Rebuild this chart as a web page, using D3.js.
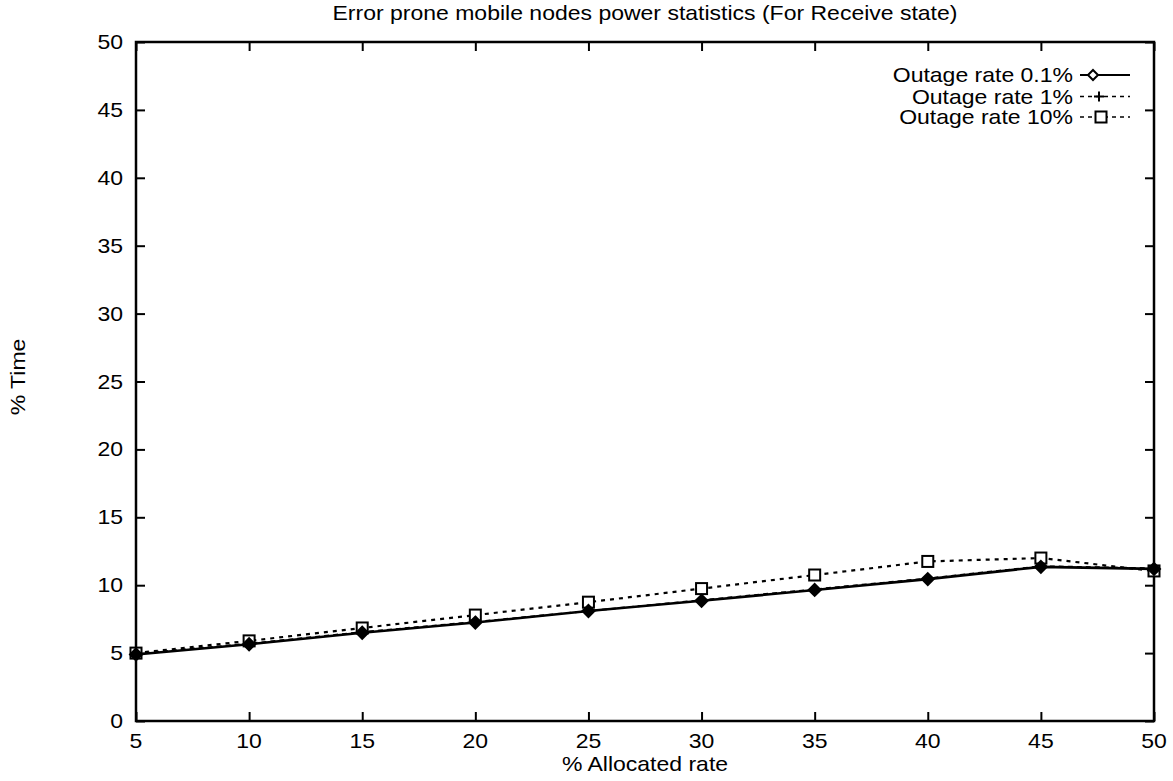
<!DOCTYPE html>
<html>
<head>
<meta charset="utf-8">
<script src="https://cdn.jsdelivr.net/npm/d3@7"></script>
<style>
  html, body { margin: 0; padding: 0; background: #fff; }
  text { font-family: "Liberation Sans", Arial, sans-serif; fill: #000; }
</style>
</head>
<body>
<svg id="chart" width="1173" height="781"></svg>
<script>
  'use strict';

  var allocatedRate = [5, 10, 15, 20, 25, 30, 35, 40, 45, 50];
  var outage01 = [4.9, 5.65, 6.5, 7.25, 8.1, 8.85, 9.65, 10.45, 11.35, 11.2];
  var outage1 = [4.95, 5.7, 6.55, 7.3, 8.1, 8.9, 9.7, 10.5, 11.4, 11.25];
  var outage10 = [5.0, 5.9, 6.85, 7.8, 8.75, 9.75, 10.75, 11.75, 12.0, 11.05];
  var xTicks = [5, 10, 15, 20, 25, 30, 35, 40, 45, 50];
  var yTicks = [0, 5, 10, 15, 20, 25, 30, 35, 40, 45, 50];
  var seriesNames = ['Outage rate 0.1%', 'Outage rate 1%', 'Outage rate 10%'];

  var FONT_SIZE = 20;
  var STRETCH = 1.15; // scanned text is wider than the font
  var TICK = 9;

  var margin = { left: 136, right: 1154, top: 42, bottom: 721 };

  var svg = d3.select('#chart');

  var x = d3.scaleLinear().domain([5, 50]).range([margin.left, margin.right]);
  var y = d3.scaleLinear().domain([0, 50]).range([margin.bottom, margin.top]);

  var label = function(parent, text, px, py, anchor, rotate) {
    var t = 'translate(' + px + ',' + py + ')';
    if (rotate) t += ' rotate(' + rotate + ')';
    t += ' scale(' + STRETCH + ',1)';
    return parent.append('text')
      .attr('transform', t)
      .attr('text-anchor', anchor)
      .style('font-size', FONT_SIZE + 'px')
      .text(text);
  };

  // mirrored ticks on all four sides, pointing inwards
  var axes = svg.append('g').classed('axes', true);

  axes.append('g')
    .attr('transform', 'translate(0,' + margin.bottom + ')')
    .call(d3.axisBottom(x).tickValues(xTicks).tickSize(-TICK).tickFormat(''));
  axes.append('g')
    .attr('transform', 'translate(0,' + margin.top + ')')
    .call(d3.axisTop(x).tickValues(xTicks).tickSize(-TICK).tickFormat(''));
  axes.append('g')
    .attr('transform', 'translate(' + margin.left + ',0)')
    .call(d3.axisLeft(y).tickValues(yTicks).tickSize(-TICK).tickFormat(''));
  axes.append('g')
    .attr('transform', 'translate(' + margin.right + ',0)')
    .call(d3.axisRight(y).tickValues(yTicks).tickSize(-TICK).tickFormat(''));

  axes.selectAll('.domain').remove();
  axes.selectAll('.tick line').attr('stroke', '#000').attr('stroke-width', 2);

  svg.append('rect')
    .attr('x', margin.left)
    .attr('y', margin.top)
    .attr('width', margin.right - margin.left)
    .attr('height', margin.bottom - margin.top)
    .attr('fill', 'none')
    .attr('stroke', '#000')
    .attr('stroke-width', 2.5);

  var tickLabels = svg.append('g').classed('tick-labels', true);
  xTicks.forEach(function(v) {
    label(tickLabels, v, x(v), margin.bottom + 27, 'middle');
  });
  yTicks.forEach(function(v) {
    label(tickLabels, v, margin.left - 13, y(v) + 7, 'end');
  });

  label(svg, 'Error prone mobile nodes power statistics (For Receive state)',
    (margin.left + margin.right) / 2, 20, 'middle');
  label(svg, '% Allocated rate', (margin.left + margin.right) / 2, 771, 'middle');
  label(svg, '% Time', 25, 377, 'middle', -90);

  var series = [
    { name: seriesNames[0], values: outage01, dash: null, width: 2.6, marker: 'diamond' },
    { name: seriesNames[1], values: outage1, dash: '5,4', width: 1.8, marker: 'plus' },
    { name: seriesNames[2], values: outage10, dash: '4,5', width: 2.2, marker: 'square' }
  ];

  var line = d3.line()
    .x(function(d) { return x(d.x); })
    .y(function(d) { return y(d.y); });

  var drawMarker = function(parent, kind, px, py, filled) {
    if (kind === 'diamond') {
      var r = filled ? 6 : 5;
      parent.append('path')
        .attr('d', 'M' + px + ',' + (py - r) + 'L' + (px + r) + ',' + py +
          'L' + px + ',' + (py + r) + 'L' + (px - r) + ',' + py + 'Z')
        .attr('fill', filled ? '#000' : '#fff')
        .attr('stroke', '#000')
        .attr('stroke-width', 2);
    } else if (kind === 'plus') {
      parent.append('path')
        .attr('d', 'M' + (px - 5) + ',' + py + 'H' + (px + 5) +
          'M' + px + ',' + (py - 5) + 'V' + (py + 5))
        .attr('stroke', '#000')
        .attr('stroke-width', 2);
    } else {
      parent.append('rect')
        .attr('x', px - 5.5)
        .attr('y', py - 5.5)
        .attr('width', 11)
        .attr('height', 11)
        .attr('fill', '#fff')
        .attr('stroke', '#000')
        .attr('stroke-width', 2);
    }
  };

  // draw 10% first so the overlapping 0.1%/1% lines sit on top
  var plot = svg.append('g').classed('series', true);
  series.slice().reverse().forEach(function(s) {
    var points = allocatedRate.map(function(r, i) {
      return { x: r, y: s.values[i] };
    });

    var g = plot.append('g');
    g.append('path')
      .datum(points)
      .attr('d', line)
      .attr('fill', 'none')
      .attr('stroke', '#000')
      .attr('stroke-width', s.width)
      .attr('stroke-dasharray', s.dash);

    points.forEach(function(p) {
      drawMarker(g, s.marker, x(p.x), y(p.y), true);
    });
  });

  // key, top right
  var key = svg.append('g').classed('legend', true);
  var KEY_TEXT_X = 1073;
  var KEY_LINE = [1080, 1130];
  var KEY_MARK = [1093, 1099, 1101];
  var KEY_ROWS = [75, 96.5, 117];

  series.forEach(function(s, i) {
    var ky = KEY_ROWS[i];
    label(key, s.name, KEY_TEXT_X, ky + 7, 'end');
    key.append('line')
      .attr('x1', KEY_LINE[0])
      .attr('x2', KEY_LINE[1])
      .attr('y1', ky)
      .attr('y2', ky)
      .attr('stroke', '#000')
      .attr('stroke-width', s.dash ? 1.6 : 2)
      .attr('stroke-dasharray', s.dash ? '4,4' : null);
    drawMarker(key, s.marker, KEY_MARK[i], ky, false);
  });
</script>
</body>
</html>
